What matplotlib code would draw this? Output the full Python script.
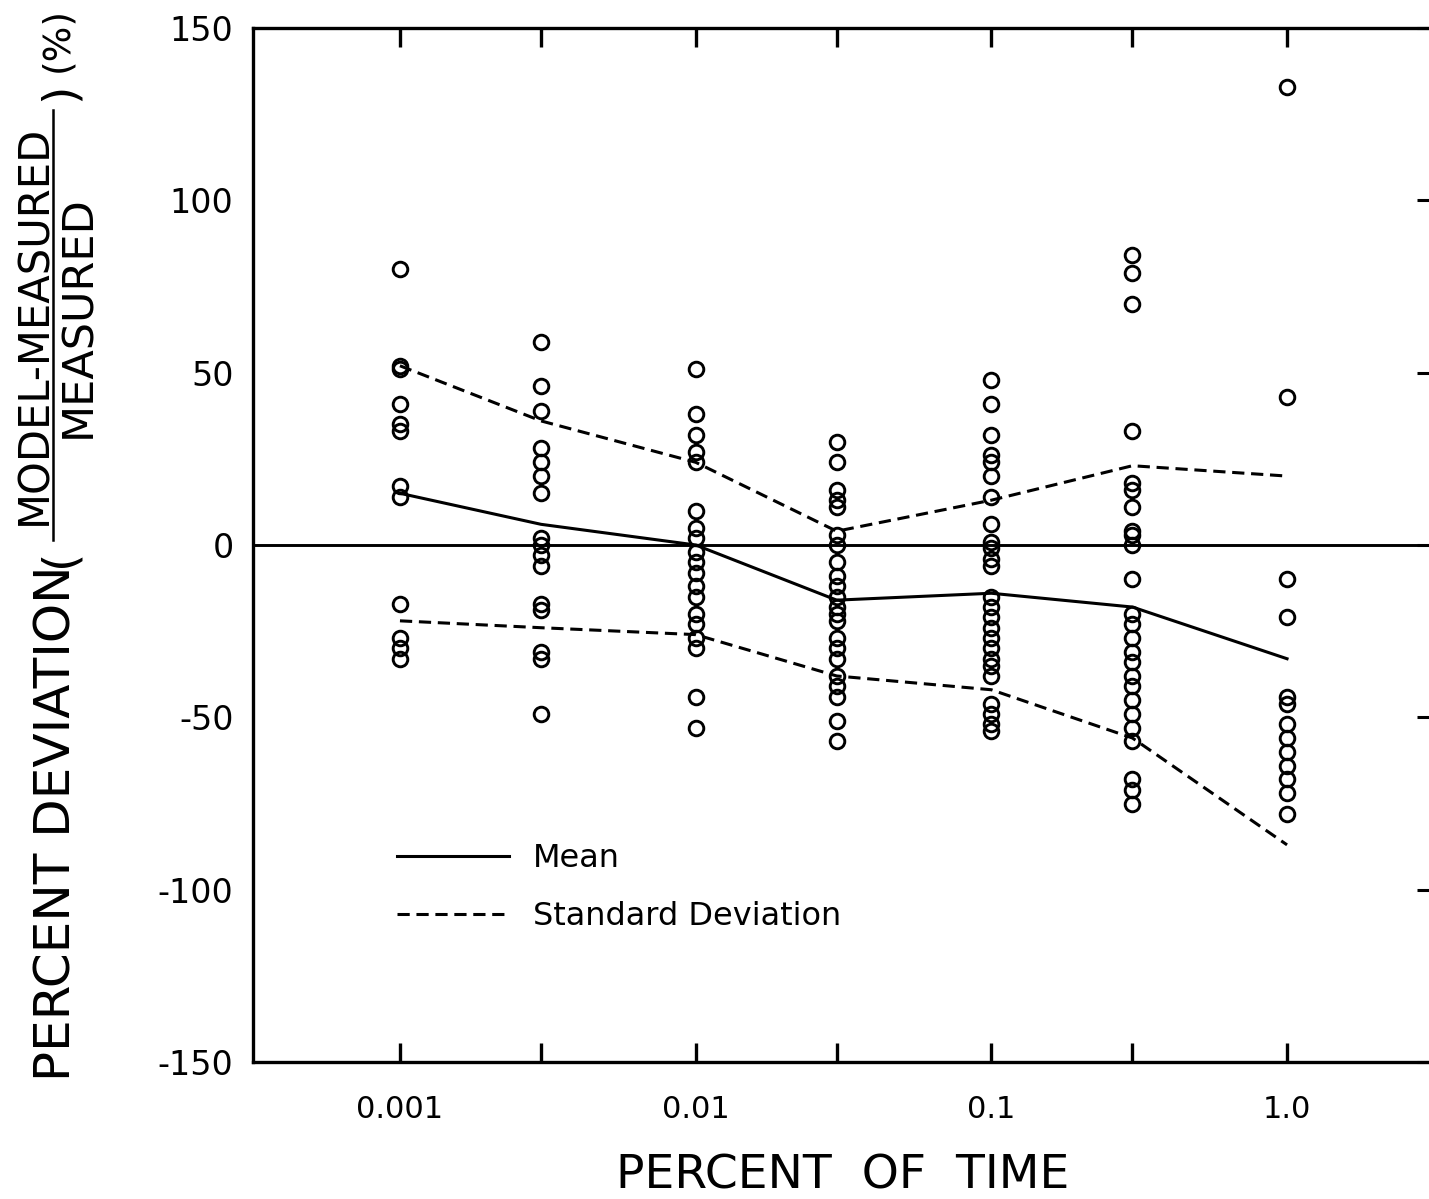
import numpy as np
import matplotlib.pyplot as plt
from matplotlib.lines import Line2D

# percent of time (x positions of the columns)
pct_time = [0.001, 0.003, 0.01, 0.03, 0.1, 0.3, 1.0]

# individual deviations (%) read per column
dev_0001 = [80, 52, 51, 41, 35, 33, 17, 14, -17, -27, -30, -33]
dev_0003 = [59, 46, 39, 28, 24, 20, 15, 2, 0, -3, -6, -17, -19, -31, -33, -49]
dev_001 = [51, 38, 32, 27, 24, 10, 5, 2, -2, -5, -8, -12, -15, -20, -23, -27, -30, -44, -53]
dev_003 = [30, 24, 16, 13, 11, 3, 0, -5, -9, -12, -15, -18, -20, -22, -27, -30, -33, -38, -41,
           -44, -51, -57]
dev_01 = [48, 41, 32, 26, 24, 20, 14, 6, 1, -1, -4, -6, -15, -18, -21, -24, -27, -30, -33, -35,
          -38, -46, -49, -52, -54]
dev_03 = [84, 79, 70, 33, 18, 16, 11, 4, 3, 0, -10, -20, -23, -27, -31, -34, -38, -41, -45, -49,
          -53, -57, -68, -71, -75]
dev_1 = [133, 43, -10, -21, -44, -46, -52, -56, -60, -64, -68, -72, -78]
columns = [dev_0001, dev_0003, dev_001, dev_003, dev_01, dev_03, dev_1]

mean_dev = [15, 6, 0, -16, -14, -18, -33]
std_upper = [52, 36, 24, 4, 13, 23, 20]
std_lower = [-22, -24, -26, -38, -42, -56, -87]

xtick_labels = ["0.001", "", "0.01", "", "0.1", "", "1.0"]
ytick_vals = [150, 100, 50, 0, -50, -100, -150]
ytick_labels = ["150", "100", "50", "0", "-50", "-100", "-150"]

plt.rcParams['font.family'] = ['DejaVu Sans']

W, H = 1429, 1199
fig = plt.figure(figsize=(W / 100, H / 100), dpi=100)
ax = fig.add_axes([253 / W, 1 - 1062 / H, (1434 - 253) / W, (1062 - 28) / H])

for x, col in zip(pct_time, columns):
    ax.plot([x] * len(col), col, 'o', ms=10.5, mfc='none', mec='black', mew=2.1)

ax.axhline(0, color='black', lw=2.1)
ax.plot(pct_time, mean_dev, '-', color='black', lw=2.2)
ax.plot(pct_time, std_upper, '--', color='black', lw=2.2, dashes=(4, 2.2))
ax.plot(pct_time, std_lower, '--', color='black', lw=2.2, dashes=(4, 2.2))

ax.set_xscale('log')
ax.set_xlim(10 ** -3.497, 10 ** 0.497)
ax.set_ylim(-150, 150)
ax.minorticks_off()
ax.set_xticks(pct_time)
ax.set_xticklabels(xtick_labels)
ax.set_yticks(ytick_vals)
ax.set_yticklabels(ytick_labels)

ax.tick_params(axis='x', direction='in', top=True, length=14, width=2.4, labelsize=22, pad=24)
ax.tick_params(axis='y', direction='in', left=False, right=True, length=12, width=2.2,
               labelsize=24, pad=14)
for s in ax.spines.values():
    s.set_linewidth(2.4)

handles = [Line2D([], [], color='black', lw=2.2),
           Line2D([], [], color='black', lw=2.2, ls='--', dashes=(4, 2.2))]
ax.legend(handles, ["Mean", "Standard Deviation"], loc='upper left',
          bbox_to_anchor=(0.122, 0.212), frameon=False, fontsize=23, handlelength=3.5,
          handletextpad=0.75, labelspacing=0.85, borderpad=0, borderaxespad=0)

fig.text(843 / W, 1 - 1176 / H, "PERCENT  OF  TIME", fontsize=34, ha='center', va='center')

# y label built from pieces: text ( fraction ) (%)
def ytext(px, py, s, size):
    fig.text(px / W, 1 - py / H, s, fontsize=size, rotation=90, ha='center', va='center')

ytext(57, 823, "PERCENT DEVIATION", 36)
ytext(60, 558, "(", 34)
ytext(34, 325, "MODEL-MEASURED", 30)
fig.add_artist(Line2D([53 / W, 53 / W], [1 - 540 / H, 1 - 110 / H], color='black', lw=1.8))
ytext(78, 317, "MEASURED", 31)
ytext(60, 92, ")", 34)
ytext(57, 40, "(%)", 27)

fig.savefig("out.png", dpi=100)
